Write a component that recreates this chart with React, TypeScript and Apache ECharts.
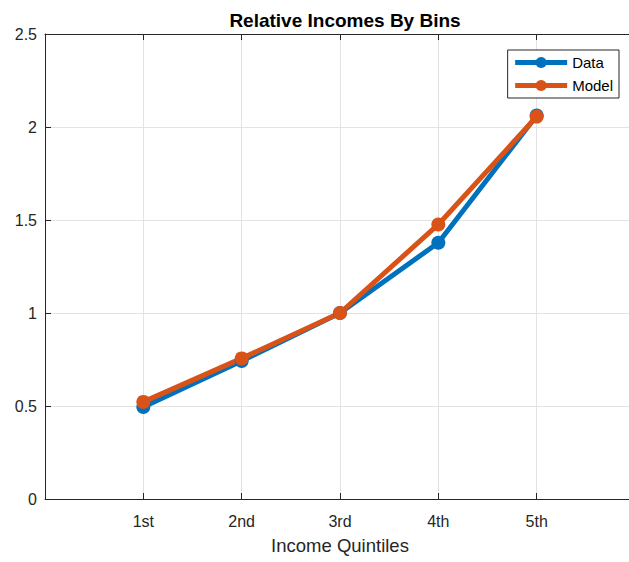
import React, { useEffect, useRef } from "react";
import * as echarts from "echarts";

const categories = ["1st", "2nd", "3rd", "4th", "5th"];
const dataValues = [0.495, 0.742, 1.0, 1.378, 2.062];
const modelValues = [0.522, 0.756, 1.0, 1.476, 2.056];
const yTicks = [0, 0.5, 1, 1.5, 2, 2.5];

const FONT = "Liberation Sans";
const AXIS = "#262626";

export default function App() {
  const ref = useRef<HTMLDivElement>(null);
  useEffect(() => {
    const chart = echarts.init(ref.current!, null, { renderer: "svg" });
    const toPts = (vals: number[]) => vals.map((v, i) => [i + 1, v]);
    chart.setOption({
      animation: false,
      backgroundColor: "#ffffff",
      textStyle: { fontFamily: FONT },
      title: {
        text: "Relative Incomes By Bins",
        left: 340,
        textAlign: "center",
        top: 6,
        textStyle: { fontFamily: FONT, fontSize: 19, fontWeight: "bold", color: "#000" },
      },
      grid: {
        left: 45,
        width: 590,
        top: 34,
        height: 465,
        containLabel: false,
        outerBoundsMode: "none",
      },
      legend: {
        right: 10,
        top: 50,
        orient: "vertical",
        itemWidth: 52,
        itemHeight: 14,
        itemGap: 8,
        padding: [5, 6, 5, 5],
        borderColor: AXIS,
        borderWidth: 1,
        borderRadius: 0,
        backgroundColor: "#fff",
        lineStyle: { width: 5 },
        textStyle: { fontFamily: FONT, fontSize: 15, color: "#000" },
        data: ["Data", "Model"],
      },
      xAxis: [
        {
          type: "value",
          min: 0,
          max: 6,
          interval: 1,
          name: "Income Quintiles",
          nameLocation: "middle",
          nameGap: 37,
          nameTextStyle: { fontFamily: FONT, fontSize: 18.5, color: AXIS },
          axisLine: { lineStyle: { color: AXIS, width: 1 } },
          axisTick: { inside: true, length: 6, lineStyle: { color: AXIS } },
          axisLabel: {
            fontFamily: FONT,
            fontSize: 16,
            color: AXIS,
            margin: 14,
            formatter: (v: number) => (v >= 1 && v <= categories.length ? categories[v - 1] : ""),
          },
          splitLine: { show: true, lineStyle: { color: "#e3e3e3", width: 1 } },
        },
        {
          type: "value",
          position: "top",
          min: 0,
          max: 6,
          interval: 1,
          axisLine: { show: true, lineStyle: { color: AXIS, width: 1 } },
          axisTick: { inside: true, length: 6, lineStyle: { color: AXIS } },
          axisLabel: { show: false },
          splitLine: { show: false },
        },
      ],
      yAxis: {
        type: "value",
        min: 0,
        max: 2.5,
        interval: 0.5,
        axisLine: { show: true, lineStyle: { color: AXIS, width: 1 } },
        axisTick: { show: true, inside: true, length: 6, lineStyle: { color: AXIS } },
        axisLabel: {
          fontFamily: FONT,
          fontSize: 16,
          color: AXIS,
          margin: 8,
          formatter: (v: number) => (yTicks.includes(v) ? String(v) : ""),
        },
        splitLine: { show: true, lineStyle: { color: "#e3e3e3", width: 1 } },
      },
      series: [
        {
          name: "Data",
          type: "line",
          data: toPts(dataValues),
          symbol: "circle",
          symbolSize: 14,
          lineStyle: { color: "#0072BD", width: 5 },
          itemStyle: { color: "#0072BD" },
        },
        {
          name: "Model",
          type: "line",
          data: toPts(modelValues),
          symbol: "circle",
          symbolSize: 14,
          lineStyle: { color: "#D95319", width: 5 },
          itemStyle: { color: "#D95319" },
        },
      ],
    });
    return () => chart.dispose();
  }, []);
  return (
    <div style={{ width: 629, height: 562, position: "fixed", left: 0, top: 0, overflow: "hidden" }}>
      <div ref={ref} style={{ width: 629, height: 562 }} />
    </div>
  );
}
